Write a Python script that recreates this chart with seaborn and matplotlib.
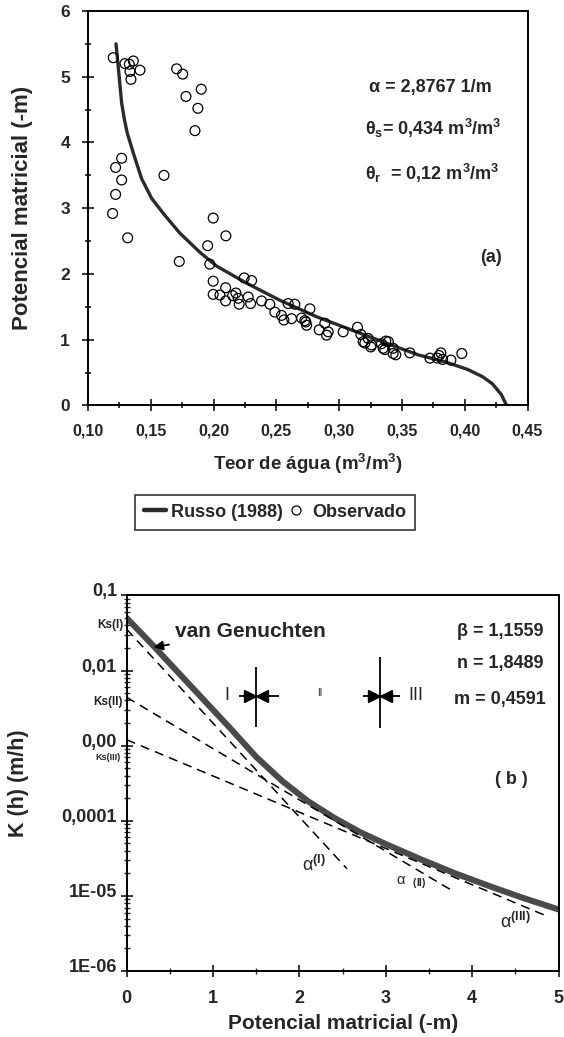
import numpy as np
import pandas as pd
import matplotlib
matplotlib.use("Agg")
import matplotlib.pyplot as plt
import matplotlib.transforms as mtransforms
from matplotlib.lines import Line2D
from matplotlib.ticker import FixedLocator, LogLocator, NullFormatter
import seaborn as sns

# ---------------- data: panel (a) ----------------
curve_theta = [0.1223, 0.1236, 0.1249, 0.1268, 0.1290, 0.1312, 0.1361, 0.1427, 0.1507,
               0.1600, 0.1732, 0.1891, 0.2024, 0.2263, 0.2528, 0.2820, 0.3165, 0.3400,
               0.3629, 0.3850, 0.4020, 0.4140, 0.4220, 0.4290, 0.4334]
curve_h = [5.50, 5.25, 4.99, 4.60, 4.35, 4.15, 3.84, 3.45, 3.15,
           2.92, 2.62, 2.33, 2.12, 1.86, 1.60, 1.35, 1.10, 0.93,
           0.77, 0.66, 0.55, 0.44, 0.33, 0.17, 0.00]

obs_theta = [0.1201, 0.1294, 0.1329, 0.1361, 0.1334, 0.1414, 0.1342,
             0.1706, 0.1754, 0.1780, 0.1902, 0.1875, 0.1852,
             0.1268, 0.1220, 0.1268, 0.1220, 0.1196, 0.1316,
             0.1605, 0.1997, 0.1953, 0.1727, 0.1970, 0.2098,
             0.1997, 0.1997, 0.2051, 0.2096, 0.2096, 0.2152, 0.2178, 0.2196, 0.2204,
             0.2244, 0.2303, 0.2276, 0.2295, 0.2382, 0.2448, 0.2488, 0.2541, 0.2560,
             0.2594, 0.2647, 0.2621, 0.2701, 0.2735, 0.2767, 0.2741, 0.2841, 0.2886,
             0.2900, 0.2913, 0.3032, 0.3146, 0.3173, 0.3191, 0.3231, 0.3258, 0.3337,
             0.3372, 0.3430, 0.3430, 0.3563, 0.2727, 0.3205, 0.3252, 0.3350,
             0.3392, 0.3364, 0.3451, 0.3723, 0.3781, 0.3810, 0.3824, 0.3890, 0.3977,
             0.3796]
obs_h = [5.29, 5.20, 5.19, 5.24, 5.08, 5.10, 4.96,
         5.12, 5.04, 4.70, 4.81, 4.52, 4.18,
         3.76, 3.62, 3.43, 3.21, 2.92, 2.55,
         3.50, 2.85, 2.43, 2.19, 2.15, 2.58,
         1.89, 1.69, 1.68, 1.79, 1.59, 1.67, 1.71, 1.63, 1.54,
         1.94, 1.90, 1.65, 1.55, 1.59, 1.54, 1.42, 1.37, 1.30,
         1.55, 1.54, 1.32, 1.33, 1.27, 1.47, 1.22, 1.15, 1.25,
         1.07, 1.12, 1.12, 1.19, 1.08, 0.97, 1.02, 0.92, 0.94,
         0.98, 0.79, 0.87, 0.80, 1.29, 0.95, 0.89, 0.87,
         0.97, 0.85, 0.77, 0.72, 0.72, 0.80, 0.70, 0.69, 0.79,
         0.76]

xticks_a = [0.10, 0.15, 0.20, 0.25, 0.30, 0.35, 0.40, 0.45]
xticklabels_a = ["0,10", "0,15", "0,20", "0,25", "0,30", "0,35", "0,40", "0,45"]
yticks_a = [0, 1, 2, 3, 4, 5, 6]

# ---------------- data: panel (b) ----------------
vg_h = [0.0, 0.3, 0.6, 0.9, 1.2, 1.5, 1.8, 2.1, 2.4, 2.7, 3.0, 3.4, 3.8, 4.2, 4.6, 5.0]
vg_K = [0.0501, 0.0219, 0.00933, 0.00398, 0.0017, 0.000708, 0.000339, 0.000182,
        0.00011, 0.0000708, 0.000049, 0.0000309, 0.00002, 0.0000135, 0.0000093, 0.0000066]

line1_h = [0.0, 2.55]
line1_K = [0.0355, 0.000023]
line2_h = [0.0, 3.80]
line2_K = [0.0044, 0.0000112]
line3_h = [0.0, 4.83]
line3_K = [0.0012, 0.0000056]

cross_h = [1.50, 2.93]
cross_K = [0.0046, 0.0046]
cross_top = [0.0112, 0.0153]
cross_bot = [0.00178, 0.0017]
bar_left = [1.30, 2.74]
bar_right = [1.76, 3.16]

yticks_b = [0.1, 0.01, 0.001, 0.0001, 0.00001, 0.000001]
yticklabels_b = ["0,1", "0,01", "0,00", "0,0001", "1E-05", "1E-06"]
xticks_b = [0, 1, 2, 3, 4, 5]

# ---------------- style ----------------
sns.set_theme(style="white")
plt.rcParams["font.family"] = ["Liberation Sans", "DejaVu Sans"]
plt.rcParams["font.weight"] = "bold"
plt.rcParams["mathtext.fontset"] = "custom"
plt.rcParams["mathtext.rm"] = "Liberation Sans:bold"
plt.rcParams["mathtext.bf"] = "Liberation Sans:bold"
plt.rcParams["mathtext.it"] = "Liberation Sans:bold"

fig = plt.figure(figsize=(5.64, 10.37), dpi=100)
ax1 = fig.add_axes([0.156, 0.6090, 0.7793, 0.3804])
ax2 = fig.add_axes([0.2246, 0.0636, 0.7658, 0.3622])

# ---------------- panel (a) ----------------
df_curve = pd.DataFrame({"theta": curve_theta, "h": curve_h})
df_obs = pd.DataFrame({"theta": obs_theta, "h": obs_h})
sns.lineplot(data=df_curve, x="theta", y="h", ax=ax1, color="#2a2a2a", lw=2.4,
             sort=False, estimator=None)
sns.scatterplot(data=df_obs, x="theta", y="h", ax=ax1, marker="o", s=50,
                color="black", linewidth=0.9, zorder=3)
ax1.collections[-1].set_facecolor("none")
ax1.collections[-1].set_edgecolor("black")

ax1.set_xlim(0.10, 0.45)
ax1.set_ylim(0, 6)
ax1.set_xticks(xticks_a)
ax1.set_xticklabels(xticklabels_a)
ax1.xaxis.set_minor_locator(FixedLocator(np.arange(0.125, 0.45, 0.05)))
ax1.set_yticks(yticks_a)
ax1.yaxis.set_minor_locator(FixedLocator(np.arange(0.5, 6, 1.0)))
ax1.tick_params(axis="both", which="major", direction="inout", length=8, width=1.3,
                bottom=True, left=True, top=False, right=False)
ax1.tick_params(axis="both", which="minor", direction="inout", length=5, width=1.3,
                bottom=True, left=True, top=False, right=False)
ax1.tick_params(axis="x", which="major", labelsize=11.5, pad=9)
ax1.tick_params(axis="y", which="major", labelsize=12.5, pad=9)
for lab in ax1.get_xticklabels() + ax1.get_yticklabels():
    lab.set_fontweight("bold")
for sp in ax1.spines.values():
    sp.set_linewidth(1.4)
    sp.set_color("black")

ax1.set_xlabel("Teor de água (m$^3$/m$^3$)", fontsize=13.5, fontweight="bold")
ax1.set_ylabel("Potencial matricial (-m)", fontsize=16, fontweight="bold")
ax1.xaxis.set_label_coords(0.5, -0.118)
ax1.yaxis.set_label_coords(-0.125, 0.5)

ax1.text(0.639, 0.805, "α = 2,8767 1/m", transform=ax1.transAxes, fontsize=13,
         fontweight="bold", va="center", ha="left")
ax1.text(0.630, 0.703, "θ$_\\mathbf{s}$= 0,434 m$^\\mathbf{3}$/m$^\\mathbf{3}$",
         transform=ax1.transAxes, fontsize=13, fontweight="bold", va="center", ha="left")
ax1.text(0.630, 0.589, "θ$_\\mathbf{r}$  = 0,12 m$^\\mathbf{3}$/m$^\\mathbf{3}$",
         transform=ax1.transAxes, fontsize=13, fontweight="bold", va="center", ha="left")
ax1.text(0.917, 0.376, "(a)", transform=ax1.transAxes, fontsize=13,
         fontweight="bold", va="center", ha="center")

h_line = Line2D([], [], color="#2a2a2a", lw=3.2)
h_pts = Line2D([], [], color="black", marker="o", linestyle="none",
               markerfacecolor="none", markersize=6.5, markeredgewidth=0.9)
leg = ax1.legend([h_line, h_pts], ["Russo (1988)", "Observado"], ncol=2,
                 loc="center", bbox_to_anchor=(0.488, 0.506),
                 bbox_transform=fig.transFigure, frameon=True, fancybox=False,
                 edgecolor="black", fontsize=13, handlelength=1.2,
                 handletextpad=0.3, columnspacing=0.1, borderpad=0.5)
leg.get_frame().set_linewidth(1.2)
for t in leg.get_texts():
    t.set_fontweight("bold")

# ---------------- panel (b) ----------------
df_vg = pd.DataFrame({"h": vg_h, "K": vg_K})
sns.lineplot(data=df_vg, x="h", y="K", ax=ax2, color="#4a4a4a", lw=4.4,
             sort=False, estimator=None, zorder=2)
for hx, ky in [(line1_h, line1_K), (line2_h, line2_K), (line3_h, line3_K)]:
    sns.lineplot(x=hx, y=ky, ax=ax2, color="black", lw=1.1, dashes=False, zorder=3)
    ax2.lines[-1].set_dashes([6, 4])

ax2.set_yscale("log")
ax2.set_xlim(0, 5)
ax2.set_ylim(1e-6, 0.1)

# crosses with bow-tie arrows
ax2.vlines(cross_h, cross_bot, cross_top, color="black", lw=1.3, zorder=4)
ax2.hlines(cross_K, bar_left, bar_right, color="black", lw=1.3, zorder=4)
off_l = mtransforms.ScaledTranslation(-4.5 / 72, 0, fig.dpi_scale_trans)
off_r = mtransforms.ScaledTranslation(4.5 / 72, 0, fig.dpi_scale_trans)
ax2.plot(cross_h, cross_K, linestyle="none", marker=">", markersize=9, color="black",
         transform=ax2.transData + off_l, zorder=5)
ax2.plot(cross_h, cross_K, linestyle="none", marker="<", markersize=9, color="black",
         transform=ax2.transData + off_r, zorder=5)

ax2.set_xticks(xticks_b)
ax2.xaxis.set_minor_locator(FixedLocator(np.arange(0.5, 5, 1.0)))
ax2.set_yticks(yticks_b)
ax2.set_yticklabels(yticklabels_b)
ax2.yaxis.set_minor_locator(LogLocator(base=10, subs=np.arange(2, 10), numticks=20))
ax2.yaxis.set_minor_formatter(NullFormatter())
ax2.tick_params(axis="both", which="major", direction="inout", length=8, width=1.3,
                bottom=True, left=True, top=False, right=False)
ax2.tick_params(axis="both", which="minor", direction="inout", length=5, width=1.0,
                bottom=True, left=True, top=False, right=False)
ax2.tick_params(axis="x", which="major", labelsize=13, pad=10)
ax2.tick_params(axis="y", which="major", labelsize=13, pad=3)
up = mtransforms.ScaledTranslation(0, 4 / 72, fig.dpi_scale_trans)
for lab in ax2.get_yticklabels():
    lab.set_transform(lab.get_transform() + up)
for lab in ax2.get_xticklabels() + ax2.get_yticklabels():
    lab.set_fontweight("bold")
for sp in ax2.spines.values():
    sp.set_linewidth(1.4)
    sp.set_color("black")

ax2.set_xlabel("Potencial matricial (-m)", fontsize=15, fontweight="bold")
ax2.set_ylabel("K (h) (m/h)", fontsize=15.5, fontweight="bold")
ax2.xaxis.set_label_coords(0.5, -0.114)
ax2.yaxis.set_label_coords(-0.225, 0.5)

ax2.text(0.765, 0.904, "β = 1,1559", transform=ax2.transAxes, fontsize=13,
         fontweight="bold", va="center", ha="left")
ax2.text(0.765, 0.819, "n = 1,8489", transform=ax2.transAxes, fontsize=13,
         fontweight="bold", va="center", ha="left")
ax2.text(0.757, 0.724, "m = 0,4591", transform=ax2.transAxes, fontsize=13,
         fontweight="bold", va="center", ha="left")
ax2.text(0.890, 0.509, "( b )", transform=ax2.transAxes, fontsize=13,
         fontweight="bold", va="center", ha="center")

ax2.annotate("van Genuchten", xy=(0.31, 0.0205), xytext=(0.112, 0.904),
             textcoords="axes fraction", fontsize=15, fontweight="bold",
             va="center", ha="left",
             arrowprops=dict(arrowstyle="-|>", color="black", lw=1.3,
                             mutation_scale=14, shrinkA=2, shrinkB=0))

ax2.text(-0.008, 0.921, "Ks(I)", transform=ax2.transAxes, fontsize=8.5,
         fontweight="bold", va="center", ha="right")
ax2.text(-0.008, 0.715, "Ks(II)", transform=ax2.transAxes, fontsize=8.5,
         fontweight="bold", va="center", ha="right")
ax2.text(-0.015, 0.568, "Ks(III)", transform=ax2.transAxes, fontsize=6.5,
         fontweight="bold", va="center", ha="right")

ax2.text(1.16, 0.0046, "I", fontsize=13, fontweight="normal", va="center", ha="center")
ax2.text(2.24, 0.0050, "II", fontsize=7, fontweight="normal", va="center", ha="center")
ax2.text(3.35, 0.0046, "III", fontsize=13, fontweight="normal", va="center", ha="center")

ax2.text(2.17, 10 ** -4.59, "α$^{\\mathrm{(I)}}$", fontsize=13, fontweight="normal",
         va="center", ha="center")
ax2.text(3.30, 10 ** -4.82, "α  $_{\\mathrm{(II)}}$", fontsize=10.5, fontweight="normal",
         va="center", ha="center")
ax2.text(4.50, 10 ** -5.35, "α$^{\\mathrm{ (III)}}$", fontsize=13, fontweight="normal",
         va="center", ha="center")

fig.savefig("out.png", dpi=100)
